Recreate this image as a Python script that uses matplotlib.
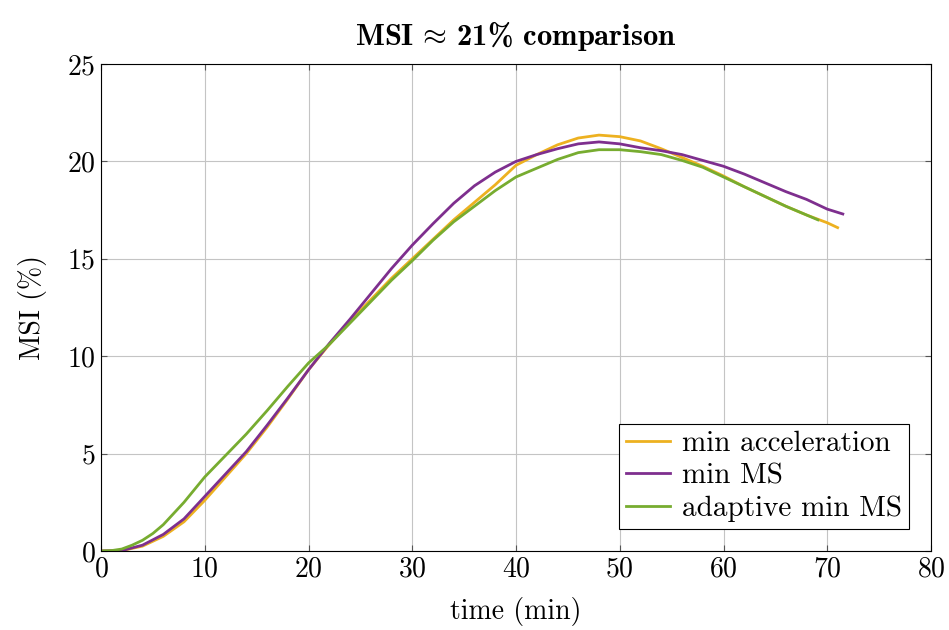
import matplotlib.pyplot as plt

plt.rcParams['font.family'] = 'cmr10'
plt.rcParams['mathtext.fontset'] = 'cm'
plt.rcParams['axes.formatter.use_mathtext'] = True

# time (min) / MSI (%) for each trajectory
t_acc = [0, 2, 4, 6, 8, 10, 12, 14, 16, 18, 20, 22, 24, 26, 28, 30, 32, 34, 36, 38,
         40, 42, 44, 46, 48, 50, 52, 54, 56, 58, 60, 62, 64, 66, 68, 70, 71]
msi_acc = [0, 0.02, 0.25, 0.75, 1.5, 2.6, 3.8, 5.0, 6.35, 7.8, 9.3, 10.6, 11.8, 12.9, 14.0,
           15.0, 16.0, 17.0, 17.9, 18.8, 19.8, 20.35, 20.85, 21.2, 21.35, 21.27, 21.05,
           20.65, 20.2, 19.75, 19.25, 18.7, 18.2, 17.7, 17.25, 16.85, 16.6]

t_ms = [0, 2, 4, 6, 8, 10, 12, 14, 16, 18, 20, 22, 24, 26, 28, 30, 32, 34, 36, 38,
        40, 42, 44, 46, 48, 50, 52, 54, 56, 58, 60, 62, 64, 66, 68, 70, 71.5]
msi_ms = [0, 0.02, 0.3, 0.85, 1.65, 2.8, 3.95, 5.1, 6.45, 7.85, 9.3, 10.65, 11.9, 13.2,
          14.5, 15.7, 16.8, 17.85, 18.75, 19.45, 20.0, 20.35, 20.65, 20.9, 21.0, 20.9,
          20.7, 20.55, 20.35, 20.05, 19.75, 19.35, 18.9, 18.45, 18.05, 17.55, 17.3]

t_ad = [0, 1, 2, 3, 4, 5, 6, 8, 10, 12, 14, 16, 18, 20, 22, 24, 26, 28, 30, 32, 34, 36,
        38, 40, 42, 44, 46, 48, 50, 52, 54, 56, 58, 60, 62, 64, 66, 68, 69.1]
msi_ad = [0, 0.02, 0.1, 0.3, 0.55, 0.9, 1.35, 2.5, 3.8, 4.9, 6.0, 7.2, 8.45, 9.65, 10.6,
          11.7, 12.8, 13.9, 14.9, 15.95, 16.9, 17.7, 18.5, 19.2, 19.65, 20.1, 20.45, 20.6,
          20.6, 20.5, 20.35, 20.05, 19.7, 19.2, 18.7, 18.2, 17.7, 17.25, 17.0]

fig = plt.figure(figsize=(9.49, 6.30), dpi=100)
ax = fig.add_axes([101 / 949, 1 - 551 / 630, 830 / 949, 487 / 630])

ax.plot(t_acc, msi_acc, color='#EDB120', lw=2.0, label='min acceleration')
ax.plot(t_ms, msi_ms, color='#7E2F8E', lw=2.0, label='min MS')
ax.plot(t_ad, msi_ad, color='#77AC30', lw=2.0, label='adaptive min MS')

ax.set_xlim(0, 80)
ax.set_ylim(0, 25)
ax.set_xticks(range(0, 81, 10))
ax.set_yticks(range(0, 26, 5))
ax.grid(True, color='#c4c4c4', lw=0.8)
ax.set_axisbelow(True)
ax.tick_params(direction='in', length=4, color='#555555', labelsize=20,
               top=True, right=True, pad=4)
for s in ax.spines.values():
    s.set_linewidth(0.8)

ax.set_xlabel('time (min)', fontsize=20, labelpad=10)
ax.set_ylabel('MSI (%)', fontsize=20, labelpad=14)
ax.set_title(r'MSI$\,\approx\,$21% comparison', fontsize=22, family='cmb10', pad=14)

leg = ax.legend(loc='lower right', fontsize=21, fancybox=False, framealpha=1,
                edgecolor='black', handlelength=1.5, handletextpad=0.4,
                labelspacing=0.2, borderpad=0.25, borderaxespad=0.75)
leg.get_frame().set_linewidth(0.8)

fig.savefig('out.png', dpi=100)
